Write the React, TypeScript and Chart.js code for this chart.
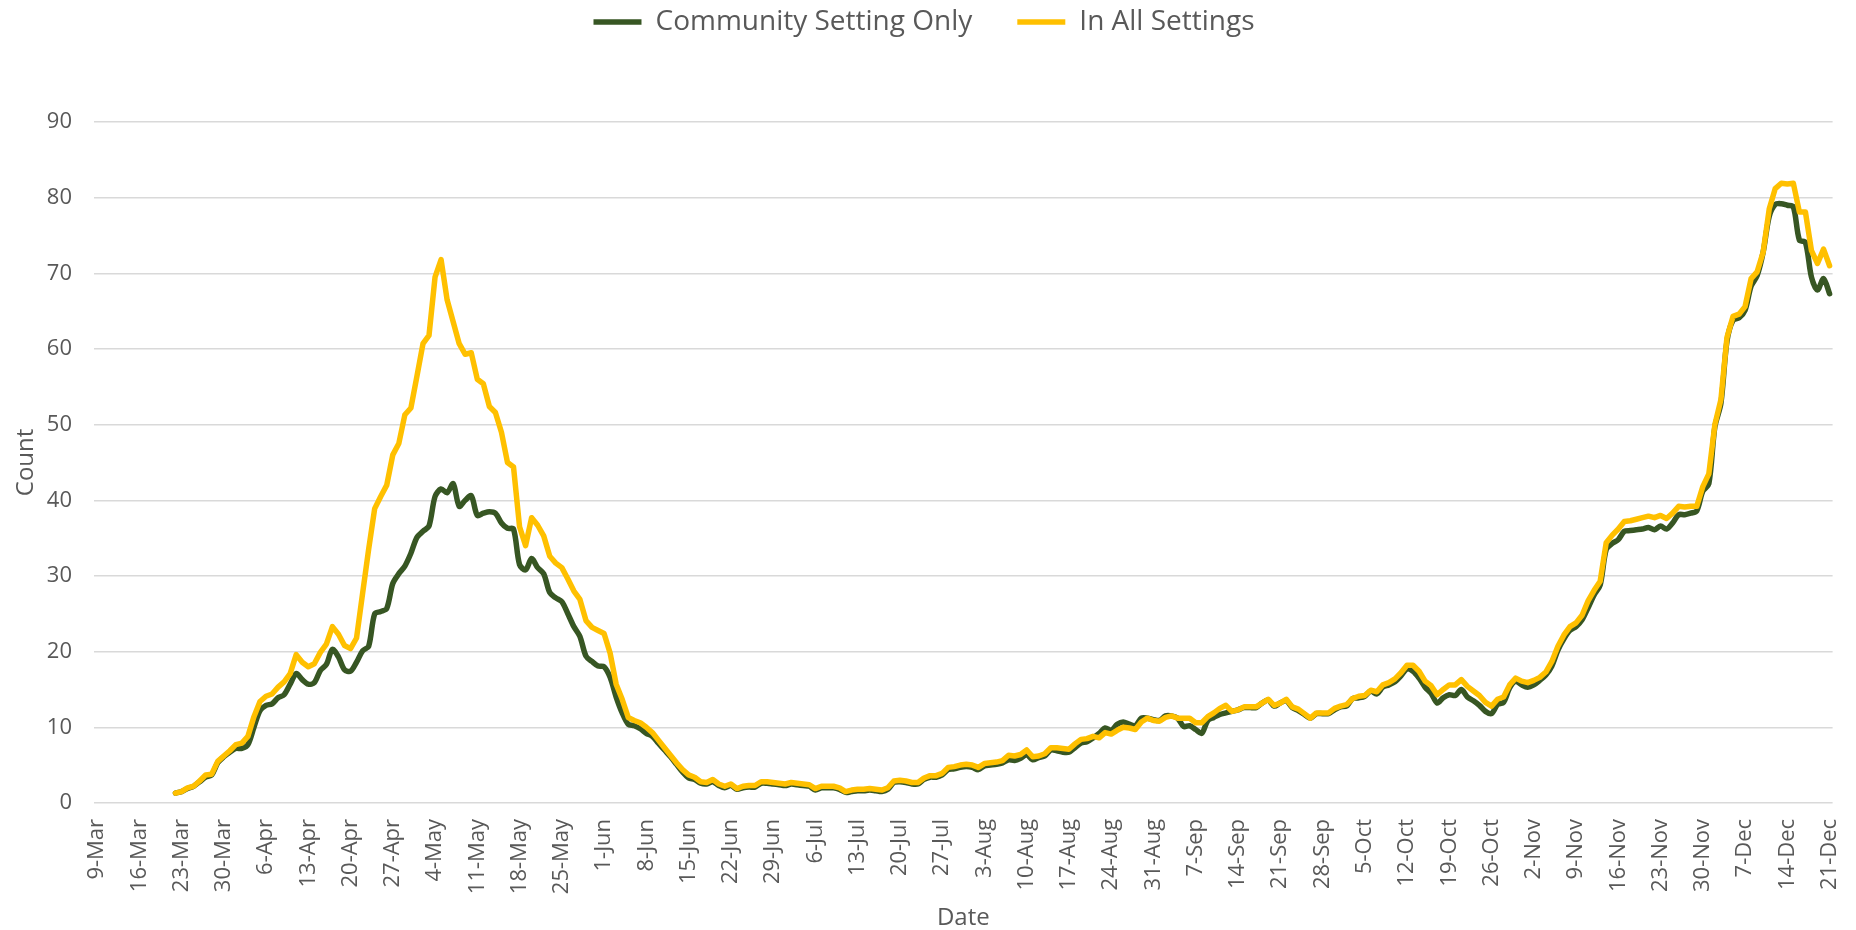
import { useEffect, useRef } from 'react';
import { Chart, registerables } from 'chart.js';

Chart.register(...registerables);

// ---- Categories: one per day, 9-Mar .. 21-Dec (2020) ----
const MONTHS = ['Jan', 'Feb', 'Mar', 'Apr', 'May', 'Jun', 'Jul', 'Aug', 'Sep', 'Oct', 'Nov', 'Dec'];
const DAY_COUNT = 288;
const CATEGORIES: string[] = Array.from({ length: DAY_COUNT }, (_, i) => {
  const d = new Date(2020, 2, 9 + i);
  return `${d.getDate()}-${MONTHS[d.getMonth()]}`;
});
const TICK_EVERY = 7;

const SERIES_NAMES = ['Community Setting Only', 'In All Settings'];

// ---- Series values (first 13 days have no data) ----
const COMMUNITY_SETTING_ONLY: (number | null)[] = [
  null, null, null, null, null, null, null, null, null, null, null, null, null,
  1.3, 1.5, 1.9, 2.2, 2.8, 3.4, 3.7,
  5.3, 6.1, 6.7, 7.2, 7.2, 7.7, 10.0, 12.2, 12.9, 13.1,
  13.9, 14.3, 15.7, 17.1, 16.3, 15.7, 15.9, 17.5, 18.3, 20.3,
  19.3, 17.6, 17.4, 18.6, 20.1, 20.7, 25.0, 25.3, 25.7, 29.0,
  30.3, 31.3, 33.0, 35.1, 35.9, 36.6, 40.5, 41.5, 41.0, 42.2,
  39.2, 40.0, 40.6, 38.0, 38.3, 38.5, 38.3, 37.0, 36.3, 36.2,
  31.5, 30.8, 32.3, 31.1, 30.3, 27.8, 27.1, 26.6, 25.0, 23.3,
  22.0, 19.4, 18.7, 18.1, 18.0, 16.6, 14.0, 11.9, 10.4, 10.2,
  9.8, 9.2, 8.8, 7.9, 7.0, 6.1, 5.1, 4.1, 3.3, 3.1,
  2.6, 2.5, 2.8, 2.3, 2.0, 2.3, 1.8, 2.0, 2.1, 2.1,
  2.6, 2.6, 2.5, 2.4, 2.3, 2.5, 2.4, 2.3, 2.2, 1.7,
  2.0, 2.0, 2.0, 1.8, 1.4, 1.5, 1.6, 1.6, 1.7, 1.6,
  1.5, 1.8, 2.7, 2.8, 2.7, 2.5, 2.5, 3.1, 3.4, 3.4,
  3.7, 4.4, 4.5, 4.7, 4.8, 4.7, 4.4, 4.9, 5.0, 5.1,
  5.3, 5.7, 5.6, 5.9, 6.4, 5.7, 6.0, 6.2, 7.0, 6.9,
  6.7, 6.7, 7.3, 7.9, 8.1, 8.6, 9.2, 9.9, 9.6, 10.4,
  10.7, 10.4, 10.2, 11.2, 11.2, 11.0, 10.9, 11.5, 11.5, 11.2,
  10.1, 10.2, 9.7, 9.2, 10.9, 11.3, 11.7, 11.9, 12.1, 12.3,
  12.6, 12.6, 12.6, 13.2, 13.6, 12.8, 13.2, 13.5, 12.6, 12.2,
  11.7, 11.2, 11.8, 11.8, 11.8, 12.3, 12.7, 12.8, 13.8, 13.9,
  14.1, 14.8, 14.4, 15.3, 15.6, 16.0, 16.8, 17.7, 17.4, 16.5,
  15.3, 14.5, 13.2, 13.9, 14.3, 14.2, 15.0, 14.0, 13.5, 12.9,
  12.1, 11.8, 13.0, 13.3, 15.2, 16.1, 15.6, 15.3, 15.6, 16.2,
  16.9, 18.1, 20.2, 21.7, 22.8, 23.3, 24.2, 25.8, 27.5, 28.8,
  33.5, 34.3, 34.8, 35.9, 36.0, 36.1, 36.2, 36.4, 36.1, 36.6,
  36.2, 37.0, 38.1, 38.1, 38.3, 38.6, 41.2, 42.2, 49.7, 52.8,
  61.0, 63.8, 64.1, 65.1, 68.3, 69.7, 72.8, 77.5, 79.1, 79.2,
  79.0, 78.8, 74.4, 74.1, 69.5, 67.8, 69.3, 67.3,
];

const IN_ALL_SETTINGS: (number | null)[] = [
  null, null, null, null, null, null, null, null, null, null, null, null, null,
  1.3, 1.5, 2.0, 2.2, 2.9, 3.7, 3.8,
  5.5, 6.2, 6.9, 7.7, 7.9, 8.8, 11.4, 13.4, 14.1, 14.4,
  15.3, 16.0, 17.1, 19.6, 18.6, 18.0, 18.4, 19.9, 21.0, 23.3,
  22.3, 20.8, 20.4, 21.8, 27.7, 33.5, 38.9, 40.5, 42.0, 46.0,
  47.5, 51.3, 52.2, 56.4, 60.7, 61.8, 69.5, 71.8, 66.5, 63.6,
  60.7, 59.3, 59.5, 56.0, 55.4, 52.4, 51.6, 49.0, 45.0, 44.4,
  36.5, 34.0, 37.7, 36.7, 35.3, 32.6, 31.7, 31.1, 29.6, 28.0,
  26.9, 24.1, 23.2, 22.8, 22.4, 19.8, 15.7, 13.7, 11.3, 10.9,
  10.6, 10.0, 9.3, 8.3, 7.3, 6.3, 5.3, 4.4, 3.7, 3.4,
  2.8, 2.7, 3.1, 2.5, 2.2, 2.5, 1.9, 2.2, 2.3, 2.3,
  2.8, 2.8, 2.7, 2.6, 2.5, 2.7, 2.6, 2.5, 2.4, 1.9,
  2.2, 2.2, 2.2, 2.0, 1.5, 1.7, 1.8, 1.8, 1.9, 1.8,
  1.7, 2.0, 2.9, 3.0, 2.9, 2.7, 2.7, 3.3, 3.6, 3.6,
  3.9, 4.7, 4.8, 5.0, 5.1, 5.0, 4.7, 5.2, 5.3, 5.4,
  5.6, 6.3, 6.2, 6.4, 7.0, 6.1, 6.2, 6.5, 7.3, 7.3,
  7.2, 7.1, 7.8, 8.4, 8.5, 8.8, 8.6, 9.3, 9.1, 9.6,
  10.0, 9.9, 9.7, 10.7, 11.2, 10.9, 10.8, 11.3, 11.5, 11.2,
  11.2, 11.2, 10.6, 10.6, 11.4, 11.9, 12.5, 12.9, 12.1, 12.3,
  12.7, 12.7, 12.7, 13.2, 13.7, 12.9, 13.2, 13.7, 12.7, 12.4,
  11.8, 11.2, 11.9, 11.9, 11.9, 12.5, 12.8, 13.0, 13.8, 14.1,
  14.2, 14.9, 14.7, 15.6, 15.9, 16.4, 17.2, 18.2, 18.2, 17.4,
  16.1, 15.5, 14.3, 15.0, 15.6, 15.6, 16.3, 15.4, 14.8, 14.2,
  13.3, 12.8, 13.7, 14.0, 15.6, 16.5, 16.1, 15.9, 16.2, 16.6,
  17.3, 18.7, 20.7, 22.2, 23.3, 23.8, 24.8, 26.7, 28.1, 29.3,
  34.4, 35.4, 36.2, 37.2, 37.3, 37.5, 37.7, 37.9, 37.7, 38.0,
  37.6, 38.3, 39.2, 39.1, 39.2, 39.2, 41.8, 43.5, 50.0, 53.3,
  61.5, 64.3, 64.6, 65.6, 69.3, 70.2, 72.8, 78.5, 81.2, 81.9,
  81.8, 81.9, 78.1, 78.1, 73.0, 71.3, 73.2, 71.0,
];

const Y_MIN = 0;
const Y_MAX = 90;
const Y_STEP = 10;

const GREEN = '#375623';
const GOLD = '#FFC000';
const TEXT = '#595959';
const FONT = "'Open Sans', 'Noto Sans', sans-serif";
const LEGEND_GAP = 76;
const CLEAR = 'rgba(0,0,0,0)';

const legendSpacer = {
  id: 'legendSpacer',
  beforeInit(chart: any) {
    const legend = chart.legend;
    if (!legend || legend.__spaced) return;
    const fit = legend.fit;
    legend.fit = function () {
      fit.call(this);
      this.height += LEGEND_GAP;
    };
    legend.__spaced = true;
  },
};

export default function App() {
  const ref = useRef<HTMLCanvasElement>(null);

  useEffect(() => {
    if (!ref.current) return;
    const chart = new Chart(ref.current, {
      type: 'line',
      data: {
        labels: CATEGORIES,
        datasets: [
          {
            label: SERIES_NAMES[0],
            data: COMMUNITY_SETTING_ONLY,
            borderColor: GREEN,
            backgroundColor: GREEN,
            borderWidth: 5.5,
            pointRadius: 0,
            pointHoverRadius: 0,
            tension: 0.3,
            borderCapStyle: 'round',
            borderJoinStyle: 'round',
            fill: false,
            order: 2,
          },
          {
            label: SERIES_NAMES[1],
            data: IN_ALL_SETTINGS,
            borderColor: GOLD,
            backgroundColor: GOLD,
            borderWidth: 5.5,
            pointRadius: 0,
            pointHoverRadius: 0,
            tension: 0,
            borderCapStyle: 'round',
            borderJoinStyle: 'round',
            fill: false,
            order: 1,
          },
        ],
      },
      options: {
        animation: false,
        responsive: false,
        maintainAspectRatio: false,
        layout: { padding: { top: -37, left: 8, right: 16, bottom: 0 } },
        plugins: {
          tooltip: { enabled: false },
          legend: {
            display: true,
            position: 'top',
            align: 'center',
            labels: {
              usePointStyle: true,
              pointStyle: 'line',
              pointStyleWidth: 48,
              boxHeight: 10,
              padding: 45,
              color: TEXT,
              font: { family: FONT, size: 28 },
              sort: (a: any, b: any) => a.datasetIndex - b.datasetIndex,
            },
          },
        },
        scales: {
          x: {
            type: 'category',
            offset: true,
            grid: {
              display: true,
              drawOnChartArea: false,
              drawTicks: true,
              tickLength: 16,
              color: CLEAR,
              tickColor: CLEAR,
            },
            border: { display: false },
            ticks: {
              autoSkip: false,
              maxRotation: 90,
              minRotation: 90,
              padding: 0,
              color: TEXT,
              font: { family: FONT, size: 22 },
              callback: function (this: any, value: any, index: number) {
                return index % TICK_EVERY === 0 ? CATEGORIES[index] : '';
              },
            },
            title: {
              display: true,
              text: 'Date',
              color: TEXT,
              font: { family: FONT, size: 24 },
              padding: { top: 10, bottom: -3 },
            },
          },
          y: {
            min: Y_MIN,
            max: Y_MAX,
            grid: {
              color: '#d9d9d9',
              lineWidth: 1.5,
              drawTicks: true,
              tickLength: 22,
              tickColor: CLEAR,
            },
            border: { display: false },
            ticks: {
              stepSize: Y_STEP,
              padding: 0,
              color: TEXT,
              font: { family: FONT, size: 22 },
            },
            title: {
              display: true,
              text: 'Count',
              color: TEXT,
              font: { family: FONT, size: 24 },
              padding: { top: 4, bottom: 6 },
            },
          },
        },
      },
      plugins: [legendSpacer],
    } as any);
    return () => chart.destroy();
  }, []);

  return (
    <div style={{ position: 'fixed', left: 0, top: 0, width: 1856, height: 930, background: '#ffffff' }}>
      <canvas ref={ref} width={1856} height={930} style={{ display: 'block', width: 1856, height: 930 }} />
    </div>
  );
}
